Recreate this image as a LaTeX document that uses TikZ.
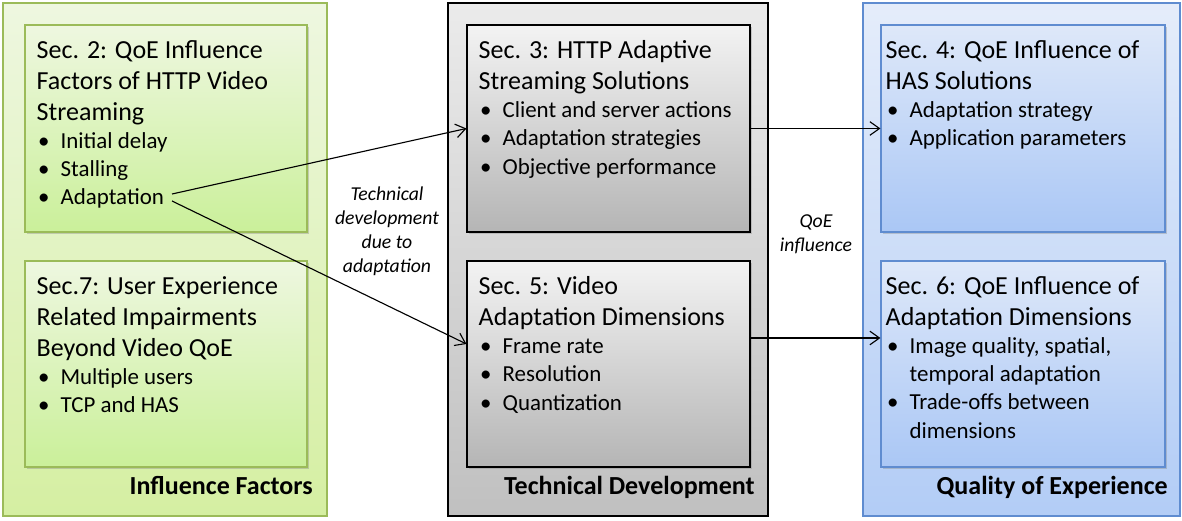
\documentclass[tikz,border=0pt]{standalone}
\usepackage{fontspec}
\setmainfont{Carlito}
\usetikzlibrary{fit,shadows,arrows.meta}
\definecolor{ifline}{HTML}{9BBB59}
\definecolor{iftop}{HTML}{EEF7E0}
\definecolor{ifbot}{HTML}{D5EFA2}
\definecolor{tdtop}{HTML}{EBEBEB}
\definecolor{tdbot}{HTML}{C0C0C0}
\definecolor{tdin}{HTML}{B5B5B5}
\definecolor{qline}{HTML}{5F8CD0}
\definecolor{qtop}{HTML}{DEE8F9}
\definecolor{qbot}{HTML}{AAC7F5}
\newcommand{\ttlfont}{\fontsize{18.5}{22}\selectfont}
\newcommand{\bitem}[1]{\par\fontsize{16.3}{20}\selectfont\hangindent=17pt\hangafter=1\noindent\makebox[17pt][l]{\hspace{1pt}•}#1}
\newcommand{\sectext}[1]{\parbox[t]{7.2cm}{\raggedright\ttlfont #1\par}}
\begin{document}
\begin{tikzpicture}[x=0.025cm,y=0.025cm,
  grp/.style={draw,line width=0.8pt,inner sep=0pt},
  sec/.style={draw,line width=0.8pt,inner sep=0pt,drop shadow={opacity=0.35,shadow xshift=1.5pt,shadow yshift=-1.5pt}},
  txt/.style={anchor=north west,inner sep=0pt},
  grpname/.style={anchor=base east,inner sep=0pt,font=\bfseries\fontsize{18.5}{22}\selectfont},
  note/.style={align=center,font=\itshape\fontsize{14}{17}\selectfont},
  >={Straight Barb[length=2.4mm,width=3.4mm]}]
\useasboundingbox[fill=white](0,0)rectangle(1182,520);
% three groups
\node[grp,ifline,top color=iftop,bottom color=ifbot,fit={(3,4)(327,517)}](inf){};
\node[grp,black,top color=tdtop,bottom color=tdbot,fit={(448,4)(768,517)}](tech){};
\node[grp,qline,top color=qtop!80!white,bottom color=qbot!90!white,fit={(863,4)(1180,517)}](qoe){};
\node[grpname]at(313,26){Influence Factors};
\node[grpname]at(755,26){Technical Development};
\node[grpname]at(1168,26){Quality of Experience};
% sections
\node[sec,ifline,top color=iftop,bottom color=ifbot!95!green,fit={(25,288)(307,495)}](s2){};
\node[sec,ifline,top color=iftop,bottom color=ifbot!95!green,fit={(25,53)(307,259)}](s7){};
\node[sec,black,top color=tdtop!60!white,bottom color=tdin,fit={(467,288)(750,495)}](s3){};
\node[sec,black,top color=tdtop!60!white,bottom color=tdin,fit={(467,53)(750,259)}](s5){};
\node[sec,qline,top color=qtop,bottom color=qbot,fit={(881,288)(1165,495)}](s4){};
\node[sec,qline,top color=qtop,bottom color=qbot,fit={(881,53)(1165,259)}](s6){};
\node[txt]at([shift={(12,-16)}]s2.north west){\sectext{Sec. 2: QoE Influence\\Factors of HTTP Video\\Streaming
 \bitem{Initial delay}\bitem{Stalling}\bitem{Adaptation}}};
\node[txt]at([shift={(12,-16)}]s7.north west){\sectext{Sec.7: User Experience\\Related Impairments\\Beyond Video QoE
 \bitem{Multiple users}\bitem{TCP and HAS}}};
\node[txt]at([shift={(12,-16)}]s3.north west){\sectext{Sec. 3: HTTP Adaptive\\Streaming Solutions
 \bitem{Client and server actions}\bitem{Adaptation strategies}\bitem{Objective performance}}};
\node[txt]at([shift={(12,-16)}]s5.north west){\sectext{Sec. 5: Video\\Adaptation Dimensions
 \bitem{Frame rate}\bitem{Resolution}\bitem{Quantization}}};
\node[txt]at([shift={(5,-16)}]s4.north west){\sectext{Sec. 4: QoE Influence of\\HAS Solutions
 \bitem{Adaptation strategy}\bitem{Application parameters}}};
\node[txt]at([shift={(5,-16)}]s6.north west){\sectext{Sec. 6: QoE Influence of\\Adaptation Dimensions
 \bitem{Image quality, spatial,\newline temporal adaptation}\bitem{Trade-offs between\newline dimensions}}};
% connectors
\coordinate(ad1)at(172,326);
\coordinate(ad2)at(172,319);
\draw[->,line width=0.8pt](ad1)--(s3.west);
\draw[->,line width=0.8pt](ad2)--([yshift=0.5cm]s5.west);
\draw[->,line width=0.8pt](s3.east)--(s4.west);
\draw[->,line width=0.8pt]([yshift=0.65cm]s5.east)--([yshift=0.65cm]s6.west);
\node[note](devnote)at(387,289){Technical\\development\\due to\\adaptation};
\node[note](qoenote)at(816,286){QoE\\influence};
\end{tikzpicture}
\end{document}
